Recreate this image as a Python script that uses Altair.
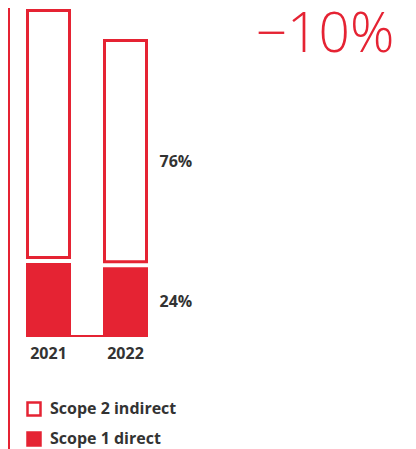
import altair as alt
import pandas as pd

RED = "#e52333"
DARK = "#333333"

years = ["2021", "2022"]
series = ["Scope 2 indirect", "Scope 1 direct"]
scope1 = [22.7, 21.4]
scope2 = [77.3, 69.4]
headline = ["\u221210%"]

rows = []
for yr, s1, s2 in zip(years, scope1, scope2):
    tot = s1 + s2
    rows.append({"year": yr, "series": series[1], "lo": 0.0, "hi": s1,
                 "mid": s1 / 2, "pct": f"{round(s1 / tot * 100)}%"})
    rows.append({"year": yr, "series": series[0], "lo": s1, "hi": tot,
                 "mid": s1 + s2 / 2, "pct": f"{round(s2 / tot * 100)}%"})
df = pd.DataFrame(rows)

xs = alt.Scale(domain=years, range=[2, 156], paddingInner=0, paddingOuter=0)
ys = alt.Scale(domain=[0, 100], range=[329, 2.5])
fill = alt.Fill("series:N", scale=alt.Scale(domain=series, range=["white", RED]),
                legend=alt.Legend(title=None, orient="none", legendX=18, legendY=393))

base = alt.Chart(df)
X = alt.X("year:N", scale=xs, axis=None)

outline = base.transform_filter(alt.datum.series == series[0]).mark_bar(
    stroke=RED, strokeWidth=3, size=42, y2Offset=-5.5
).encode(x=X, y=alt.Y("hi:Q", scale=ys, axis=None), y2="lo:Q", fill=fill)

filled = base.transform_filter(alt.datum.series == series[1]).mark_bar(
    size=45
).encode(x=X, y=alt.Y("hi:Q", scale=ys, axis=None), y2="lo:Q", fill=fill)

baseline = alt.Chart(pd.DataFrame({"v": [0]})).mark_rule(
    color=RED, strokeWidth=2, yOffset=-1
).encode(x=alt.value(18), x2=alt.value(140), y=alt.Y("v:Q", scale=ys, axis=None))

left_line = alt.Chart(pd.DataFrame({"v": [0]})).mark_rule(
    color=RED, strokeWidth=2
).encode(x=alt.value(1), y=alt.value(0), y2=alt.value(441))

year_lbl = alt.Chart(pd.DataFrame({"year": years})).mark_text(
    font="Open Sans", fontWeight="bold", fontSize=16, color=DARK, baseline="middle"
).encode(x=X, y=alt.value(346), text="year:N")

last = df[df.year == years[-1]]
pct2 = alt.Chart(last[last.series == series[0]]).mark_text(
    font="Open Sans", fontWeight="bold", fontSize=16, color=DARK, align="left",
    baseline="middle", dx=34, dy=8
).encode(x=X, y=alt.Y("mid:Q", scale=ys, axis=None), text="pct:N")
pct1 = alt.Chart(last[last.series == series[1]]).mark_text(
    font="Open Sans", fontWeight="bold", fontSize=16, color=DARK, align="left",
    baseline="middle", dx=34
).encode(x=X, y=alt.Y("mid:Q", scale=ys, axis=None), text="pct:N")

head = alt.Chart(pd.DataFrame({"t": headline})).mark_text(
    font="Open Sans", fontWeight=300, fontSize=55, color=RED, align="center",
    baseline="alphabetic"
).encode(x=alt.value(317), y=alt.value(44), text="t:N")

chart = alt.layer(left_line, outline, filled, baseline, year_lbl, pct2, pct1, head).properties(
    width=400, height=441, autosize=alt.AutoSizeParams(type="none"), padding=0
).configure_view(stroke=None).configure_legend(
    symbolType="square", symbolSize=169, symbolStrokeColor=RED, symbolStrokeWidth=2.5,
    labelFont="Open Sans", labelFontWeight="bold", labelFontSize=16, labelColor=DARK,
    labelOffset=8, rowPadding=6, padding=0, symbolOffset=0
)

chart.save("out.html", embed_options={"renderer": "svg", "actions": False})
